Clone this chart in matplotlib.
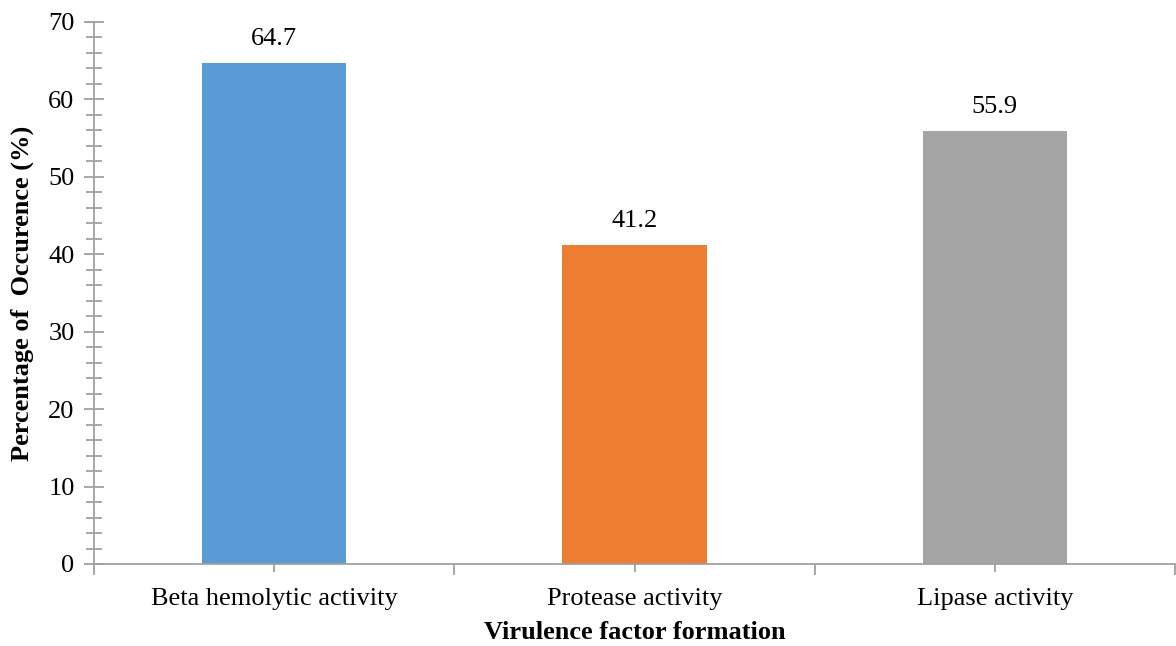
import matplotlib
matplotlib.use("Agg")
import matplotlib.pyplot as plt
import numpy as np

categories = ["Beta hemolytic activity", "Protease activity", "Lipase activity"]
values = [64.7, 41.2, 55.9]
colors = ["#5b9bd5", "#ed7d31", "#a5a5a5"]

plt.rcParams["font.family"] = ["Liberation Serif", "DejaVu Serif"]

fig = plt.figure(figsize=(11.76, 6.46), dpi=100)
ax = fig.add_axes([94 / 1176, 1 - 564 / 646, (1175 - 94) / 1176, (564 - 22) / 646])

x = np.arange(len(categories))
ax.bar(x, values, width=0.4, color=colors, zorder=2)
for xi, v in zip(x, values):
    ax.text(xi, v + 2.3, f"{v}", ha="center", va="baseline", fontsize=19)

ax.set_xlim(-0.5, len(categories) - 0.5)
ax.set_ylim(0, 70)
ax.set_yticks(np.arange(0, 71, 10))
ax.set_yticks(np.arange(0, 71, 2), minor=True)
ax.set_xticks(x)
ax.set_xticklabels(categories)
ax.set_xticks(np.arange(-0.5, len(categories), 1), minor=True)

axis_gray = "#a0a0a0"
for side in ["top", "right"]:
    ax.spines[side].set_visible(False)
for side in ["left", "bottom"]:
    ax.spines[side].set_color(axis_gray)
    ax.spines[side].set_linewidth(1.3)

ax.tick_params(axis="y", which="major", direction="inout", length=14, width=1.3,
               color=axis_gray, labelsize=19, pad=7)
ax.tick_params(axis="y", which="minor", direction="inout", length=12, width=1.3,
               color=axis_gray)
ax.tick_params(axis="x", which="major", direction="inout", length=11, width=1.3,
               color=axis_gray, labelsize=19, pad=12)
ax.tick_params(axis="x", which="minor", direction="out", length=8, width=1.3,
               color=axis_gray)

ax.set_xlabel("Virulence factor formation", fontsize=19, fontweight="bold", labelpad=8)
ax.set_ylabel("Percentage of  Occurence (%)", fontsize=19, fontweight="bold", labelpad=10)

fig.savefig("out.png", dpi=100)
